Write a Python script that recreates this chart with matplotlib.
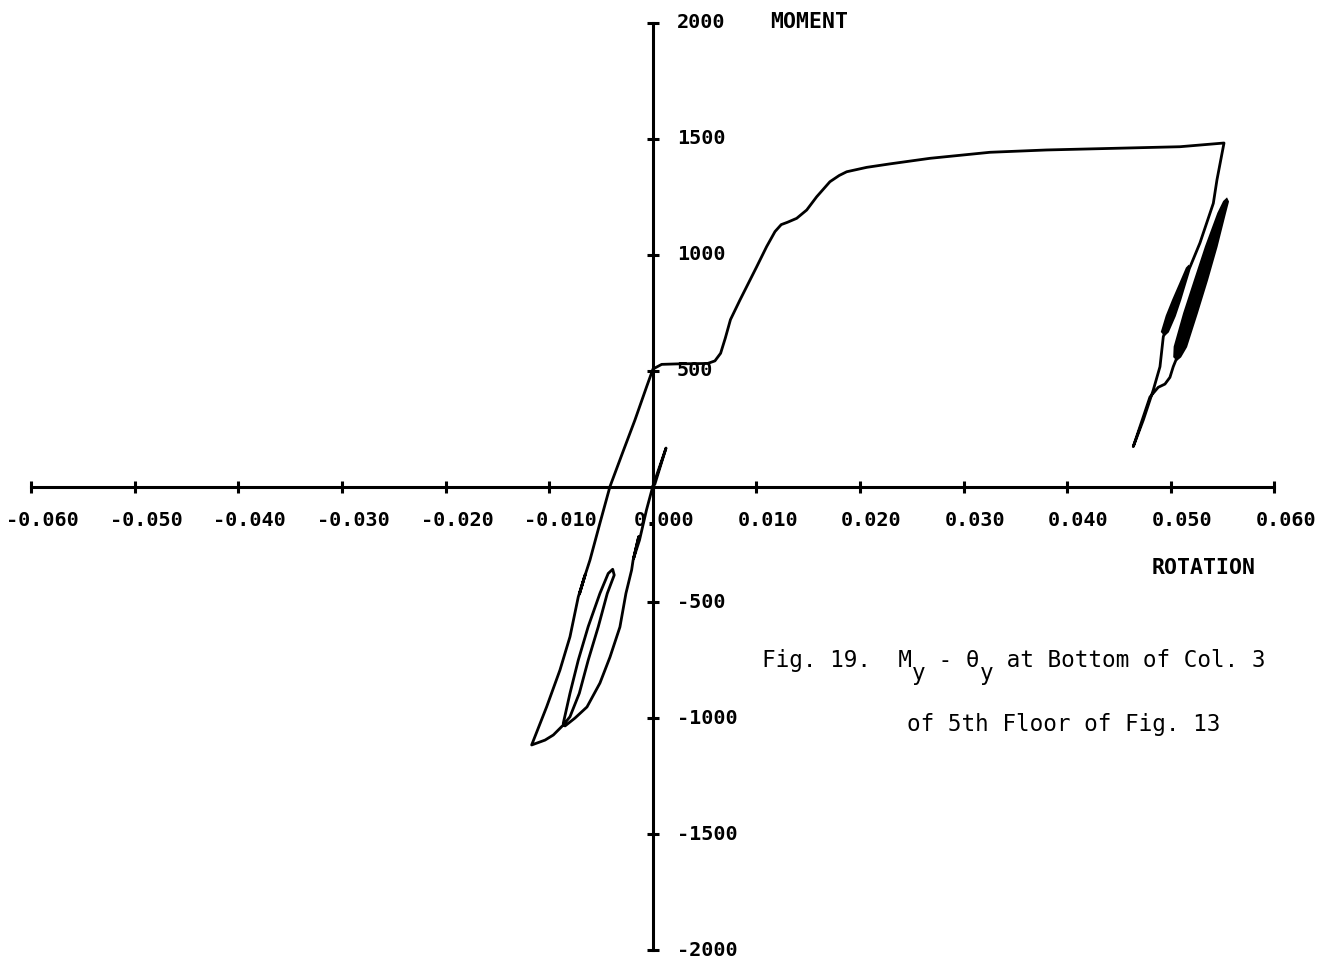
import matplotlib
matplotlib.use("Agg")
import matplotlib.pyplot as plt

# M_y - theta_y trace at bottom of column 3, 5th floor
rotation = [
    0.0, 0.00128, 0.00020, 0.0,
    -0.0006, -0.00128, -0.00185, -0.00135, -0.00190, -0.00204, -0.00259,
    -0.00317, -0.00413, -0.00510, -0.00635, -0.00751, -0.00847, -0.00864,
    -0.00799, -0.00719, -0.00623, -0.00510, -0.00430, -0.00387,
    -0.00372, -0.00439, -0.00526, -0.00623, -0.00709, -0.00799, -0.00864,
    -0.00960, -0.01040, -0.01169,
    -0.01024, -0.00896, -0.00799, -0.00719, -0.00654, -0.00708, -0.00650,
    -0.00606, -0.00510, -0.00413, -0.00292, -0.00172, -0.00059, 0.00002,
    0.00086, 0.00231, 0.00530, 0.00600, 0.00655, 0.00700, 0.00750, 0.00842,
    0.01003, 0.01099, 0.01180, 0.01240, 0.01300, 0.01389, 0.01486, 0.01582,
    0.01710, 0.01800, 0.01872, 0.02065, 0.02290, 0.02676, 0.03255, 0.03802,
    0.04445, 0.05089, 0.05514,
    0.05446, 0.05411, 0.05282, 0.05186, 0.05169, 0.05113, 0.05057,
    0.05000, 0.04944, 0.04928, 0.04896, 0.04831, 0.04735, 0.04638,
    0.04799, 0.04879, 0.04944, 0.04992, 0.05024, 0.05063,
]
moment = [
    0, 166, 10, 0,
    -100, -231, -310, -215, -318, -360, -461,
    -606, -736, -848, -951, -999, -1033, -1022,
    -892, -749, -604, -461, -375, -357,
    -382, -461, -605, -749, -892, -993, -1029,
    -1072, -1094, -1115,
    -950, -792, -648, -476, -382, -464, -378,
    -317, -158, 0, 145, 287, 431, 507,
    527, 529, 531, 542, 575, 640, 720, 805,
    948, 1035, 1100, 1130, 1140, 1157, 1193, 1250,
    1315, 1342, 1358, 1377, 1392, 1416, 1442, 1452,
    1459, 1466, 1482,
    1323, 1222, 1051, 947, 941, 873, 805,
    736, 668, 646, 517, 416, 287, 172,
    386, 428, 442, 471, 517, 560,
]

# small repeated cycles after the peak (dense, drawn filled)
loop_a_rot = [0.04915, 0.04961, 0.05023, 0.05089, 0.05155, 0.05172,
              0.05184, 0.05137, 0.05091, 0.05039, 0.04973, 0.04942]
loop_a_mom = [668, 736, 805, 873, 942, 950,
              942, 873, 805, 736, 668, 655]
loop_b_rot = [0.05034, 0.05038, 0.05129, 0.05234, 0.05340, 0.05459, 0.05514,
              0.05540,
              0.05552, 0.05523, 0.05442, 0.05350, 0.05251, 0.05148, 0.05092,
              0.05060]
loop_b_mom = [560, 603, 747, 891, 1035, 1179, 1229,
              1240,
              1229, 1179, 1035, 891, 747, 603, 560,
              548]

x_ticks = [-0.06, -0.05, -0.04, -0.03, -0.02, -0.01, 0.0,
           0.01, 0.02, 0.03, 0.04, 0.05, 0.06]
x_labels = ["-0.060", "-0.050", "-0.040", "-0.030", "-0.020", "-0.010", "0.000",
            "0.010", "0.020", "0.030", "0.040", "0.050", "0.060"]
y_ticks = [2000, 1500, 1000, 500, -500, -1000, -1500, -2000]
y_labels = ["2000", "1500", "1000", "500", "-500", "-1000", "-1500", "-2000"]

fig = plt.figure(figsize=(13.19, 9.61), dpi=100)
ax = fig.add_axes([0, 0, 1, 1])
ax.axis("off")
ax.set_xlim(-0.06301, 0.06431)
ax.set_ylim(-2047, 2099)

# axes through the origin with cross ticks
ax.plot([-0.06, 0.06], [0, 0], color="black", lw=2.2)
ax.plot([0, 0], [-2000, 2000], color="black", lw=2.2)
ax.plot(x_ticks, [0] * len(x_ticks), ls="none", marker="|",
        ms=8.6, mew=2.2, color="black")
ax.plot([0] * len(y_ticks), y_ticks, ls="none", marker="_",
        ms=8.6, mew=2.2, color="black")

tick_font = dict(family="DejaVu Sans Mono", weight="bold", size=14.5, color="black")
for t, lab in zip(x_ticks, x_labels):
    ax.text(t + 0.0011, -145, lab, ha="center", va="center", **tick_font)
for t, lab in zip(y_ticks, y_labels):
    ax.text(0.00234, t, lab, ha="left", va="center", **tick_font)

ax.text(0.01134, 2004, "MOMENT", ha="left", va="center",
        family="DejaVu Sans Mono", weight="bold", size=15.5)
ax.text(0.04819, -352, "ROTATION", ha="left", va="center",
        family="DejaVu Sans Mono", weight="bold", size=15.5)

# hysteresis curve
ax.plot(rotation, moment, color="black", lw=2.0,
        solid_joinstyle="round", solid_capstyle="round")
ax.fill(loop_a_rot, loop_a_mom, color="black", lw=1.5)
ax.fill(loop_b_rot, loop_b_mom, color="black", lw=1.5)

# caption
cap = dict(family="DejaVu Sans Mono", size=16.3, color="black")
t1 = ax.text(0.01051, -779, "Fig. 19.  M", ha="left", va="baseline", **cap)
t2 = ax.annotate("y", xy=(1, 0), xycoords=t1, xytext=(0, -9.5),
                 textcoords="offset points", ha="left", va="bottom", **cap)
t3 = ax.annotate(" - \u03b8", xy=(1, 0), xycoords=t2, xytext=(0, 9.5),
                 textcoords="offset points", ha="left", va="bottom", **cap)
t4 = ax.annotate("y", xy=(1, 0), xycoords=t3, xytext=(0, -9.5),
                 textcoords="offset points", ha="left", va="bottom", **cap)
ax.annotate(" at Bottom of Col. 3", xy=(1, 0), xycoords=t4, xytext=(0, 9.5),
            textcoords="offset points", ha="left", va="bottom", **cap)
ax.text(0.02451, -1055, "of 5th Floor of Fig. 13", ha="left", va="baseline", **cap)

fig.savefig("out.png", dpi=100, facecolor="white")
